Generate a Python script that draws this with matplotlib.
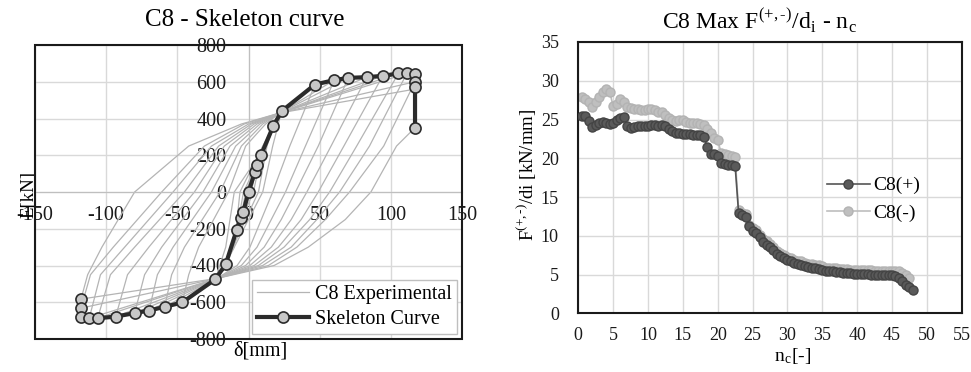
import numpy as np
import matplotlib
matplotlib.use("Agg")
import matplotlib.pyplot as plt
from matplotlib.patches import Rectangle

plt.rcParams["font.family"] = ["Liberation Serif", "DejaVu Serif"]
plt.rcParams["mathtext.fontset"] = "stix"
plt.rcParams["axes.unicode_minus"] = False

# ---- left chart: skeleton curve ----
skel_x = [-117.7, -117.7, -117.7, -111.9, -106.0, -93.3, -80.0, -69.9, -58.9, -46.5, -23.3, -16.0,
          -8.3, -5.5, -3.6, 0.0, 4.6, 5.7, 8.8, 17.4, 23.3, 46.7, 60.3, 70.1, 83.0, 94.3, 105.3,
          111.2, 117.0, 117.0, 117.0, 117.0]
skel_y = [-583, -632, -678, -687, -687, -678, -659, -645, -625, -601, -475, -393,
          -206, -143, -107, 0, 110, 147, 201, 359, 440, 585, 609, 621, 625, 632, 645,
          645, 640, 600, 569, 350]

# experimental loops: peaks and the x where each branch crosses a given force level
loop_xp = [4.6, 5.7, 8.8, 17.4, 23.3, 46.7, 60.3, 70.1, 83.0, 94.3, 105.3, 111.2, 117.0, 117.0]
loop_yp_top = [110, 147, 201, 359, 440, 585, 609, 621, 625, 632, 645, 645, 600, 560]
loop_yp = [110, 147, 201, 359, 440, 585, 609, 621, 625, 632, 645, 645, 600, 350]
loop_xn = [-3.6, -5.5, -8.3, -16.0, -23.3, -46.5, -58.9, -69.9, -80.0, -93.3, -106.0, -111.9, -117.7, -117.7]
loop_yn = [-107, -143, -206, -393, -475, -601, -625, -645, -659, -678, -687, -687, -632, -583]
# unloading branch (positive peak -> negative peak), x at F = 250, 0, -300
unl_x250 = [np.nan, np.nan, np.nan, 13, 17, 29, 40, 49, 58, 67, 76, 85, 95, 104]
unl_x0 = [1.5, 2.0, 3.5, 7, 10, 17, 26, 33, 41, 49, 57, 64, 71, 86]
unl_xm150 = [np.nan, np.nan, np.nan, np.nan, np.nan, 9, 16, 23, 30, 37, 43, 48, 54, 68]
unl_xm300 = [np.nan, np.nan, np.nan, -11, -10, 1, 6, 11, 16, 21, 25, 30, 34, 42]
unl_xm400 = [np.nan, np.nan, np.nan, np.nan, np.nan, -8, -5, -2, 1, 4, 7, 10, 14, 18]
# reloading branch (negative peak -> positive peak), x at F = -300, 0, 250
rel_xm450 = [np.nan, np.nan, np.nan, np.nan, np.nan, -42, -54, -64, -73, -85, -97, -104, -111, -113]
rel_xm300 = [np.nan, np.nan, np.nan, -10, -16, -35, -45, -53, -61, -70, -80, -87, -95, -103]
rel_x0 = [-1.5, -2.0, -3.5, -6, -10, -14, -20, -26, -32, -38, -45, -53, -61, -80]
rel_x250 = [np.nan, np.nan, np.nan, 10, 12, -2, -5, -9, -13, -17, -21, -26, -31, -42]
rel_x370 = [np.nan, np.nan, np.nan, np.nan, np.nan, 12, 10, 8, 6, 4, 2, 0, -3, -5]
pinch_pos = (22, 430)
pinch_neg = (-22, -470)

# ---- right chart: stiffness degradation ----
c8_pos = [25.4, 25.5, 24.8, 24.0, 24.3, 24.6, 24.7, 24.5, 24.4, 24.6, 24.9, 25.2, 25.3, 24.1, 23.9,
          24.0, 24.1, 24.1, 24.2, 24.2, 24.3, 24.3, 24.2, 24.3, 24.1, 23.8, 23.5, 23.3, 23.2, 23.1,
          23.1, 23.1, 23.0, 23.0, 23.0, 22.8, 21.5, 20.6, 20.5, 20.3, 19.4, 19.2, 19.1, 19.1, 19.0,
          12.9, 12.7, 12.4, 11.2, 10.6, 10.4, 9.8, 9.2, 8.8, 8.5, 8.2, 7.6, 7.4, 7.1, 6.9,
          6.7, 6.5, 6.3, 6.2, 6.1, 6.0, 5.9, 5.8, 5.7, 5.6, 5.5, 5.5, 5.4, 5.3, 5.3,
          5.2, 5.2, 5.2, 5.1, 5.1, 5.1, 5.1, 5.1, 5.0, 5.0, 5.0, 5.0, 5.0, 4.9, 4.9,
          4.8, 4.6, 4.2, 3.6, 3.4, 3.0]
c8_neg = [27.9, 27.6, 27.3, 26.6, 27.2, 27.9, 28.5, 28.9, 28.6, 26.7, 27.0, 27.6, 27.2, 26.6, 26.5,
          26.4, 26.3, 26.2, 26.2, 26.3, 26.4, 26.2, 26.0, 26.0, 25.6, 25.2, 24.9, 24.8, 24.9, 24.9,
          24.7, 24.6, 24.5, 24.6, 24.4, 24.3, 23.8, 23.2, 22.6, 22.3, 20.7, 20.5, 20.4, 20.3, 20.1,
          13.3, 13.0, 12.8, 11.4, 11.0, 10.7, 10.1, 9.6, 9.3, 8.9, 8.6, 8.1, 7.8, 7.5, 7.2,
          7.1, 6.9, 6.8, 6.7, 6.5, 6.4, 6.3, 6.2, 6.2, 6.1, 5.9, 5.9, 5.8, 5.8, 5.7,
          5.7, 5.7, 5.6, 5.6, 5.6, 5.6, 5.6, 5.6, 5.6, 5.5, 5.5, 5.5, 5.5, 5.5, 5.5,
          5.5, 5.4, 5.2, 5.0, 4.6]
nc_step = 0.5

fig = plt.figure(figsize=(9.71, 3.72), dpi=100)

# ================= left =================
ax = fig.add_axes([35 / 971, 33 / 372, 427 / 971, 294 / 372])
exp_label = "C8 Experimental"
for i in range(len(loop_xp)):
    xs = [loop_xp[i], loop_xp[i], unl_x250[i], unl_x0[i], unl_xm150[i], unl_xm300[i], unl_xm400[i]]
    ys = [loop_yp_top[i], loop_yp[i], 250, 0, -150, -300, -400]
    if i >= 5:
        xs.append(pinch_neg[0]); ys.append(pinch_neg[1])
    xs += [loop_xn[i], rel_xm450[i], rel_xm300[i], rel_x0[i], rel_x250[i], rel_x370[i]]
    ys += [loop_yn[i], -450, -300, 0, 250, 370]
    if i >= 5:
        xs.append(pinch_pos[0]); ys.append(pinch_pos[1])
    xs.append(loop_xp[i]); ys.append(loop_yp_top[i])
    xs = np.array(xs, dtype=float)
    ys = np.array(ys, dtype=float)
    ok = ~np.isnan(xs)
    ax.plot(xs[ok], ys[ok], color="#b4b4b4", lw=0.9, label=exp_label, zorder=2)
    exp_label = None

ax.plot(skel_x, skel_y, color="#2b2b2b", lw=3, marker="o", markersize=8,
        markerfacecolor="#c8c8c8", markeredgecolor="#2b2b2b", markeredgewidth=1.2,
        label="Skeleton Curve", zorder=4)

ax.set_xlim(-150, 150)
ax.set_ylim(-800, 800)
ax.set_xticks(np.arange(-150, 151, 50))
ax.set_yticks(np.arange(-800, 801, 200))
ax.grid(True, color="#d9d9d9", lw=1)
ax.set_axisbelow(True)
ax.spines["left"].set_position(("data", 0))
ax.spines["bottom"].set_position(("data", 0))
ax.spines["left"].set_color("#bfbfbf")
ax.spines["bottom"].set_color("#bfbfbf")
ax.spines["top"].set_visible(False)
ax.spines["right"].set_visible(False)
ax.tick_params(length=0, labelsize=14.5, colors="#1a1a1a")
ax.tick_params(axis="y", pad=16)
ax.tick_params(axis="x", pad=10)
ax.add_patch(Rectangle((0, 0), 1, 1, transform=ax.transAxes, fill=False,
                       edgecolor="#1a1a1a", lw=1.5, clip_on=False, zorder=5))
ax.set_xlabel("δ[mm]", fontsize=14.5)
ax.xaxis.set_label_coords(0.527, -0.01)
ax.set_ylabel("E[kN]", fontsize=13.5)
ax.yaxis.set_label_coords(0.005, 0.49)
leg = ax.legend(loc="lower right", bbox_to_anchor=(1, 0), borderaxespad=0.25, fontsize=14.5,
                frameon=True, fancybox=False, edgecolor="#bfbfbf", framealpha=1,
                handlelength=2.6, handletextpad=0.3, borderpad=0.25, labelspacing=0.3)
fig.text(245 / 971, 1 - 20 / 372, "C8 - Skeleton curve", fontsize=18, ha="center", va="center")

# ================= right =================
ax2 = fig.add_axes([578.3 / 971, 58.7 / 372, 383.4 / 971, 271.3 / 372])
n_pos = nc_step * (np.arange(len(c8_pos)) + 1)
n_neg = nc_step * (np.arange(len(c8_neg)) + 1)
ax2.plot(n_pos, c8_pos, color="#555555", lw=1.2, marker="o", markersize=6.5,
         markerfacecolor="#5a5a5a", markeredgecolor="#444444", label="C8(+)", zorder=3)
ax2.plot(n_neg, c8_neg, color="#bdbdbd", lw=1.2, marker="o", markersize=6.5,
         markerfacecolor="#bfbfbf", markeredgecolor="#b3b3b3", label="C8(-)", zorder=2)
ax2.set_xlim(0, 55)
ax2.set_ylim(0, 35)
ax2.set_xticks(np.arange(0, 56, 5))
ax2.set_yticks(np.arange(0, 36, 5))
ax2.grid(True, color="#d9d9d9", lw=1)
ax2.set_axisbelow(True)
for s in ax2.spines.values():
    s.set_color("#1a1a1a")
    s.set_linewidth(1.5)
ax2.tick_params(length=0, labelsize=13, colors="#1a1a1a")
ax2.tick_params(axis="y", pad=14)
ax2.tick_params(axis="x", pad=10)
ax2.set_xlabel("n$_{\\mathregular{c}}$[-]", fontsize=14)
ax2.xaxis.set_label_coords(0.56, -0.12)
ax2.set_ylabel("F$^{\\mathregular{(+,\u2010)}}$/di [kN/mm]", fontsize=13.5)
ax2.yaxis.set_label_coords(-0.105, 0.51)
ax2.legend(loc="center", bbox_to_anchor=(0.77, 0.42), frameon=False, fontsize=14,
           handlelength=2.2, handletextpad=0.2, labelspacing=0.5)
fig.text(759 / 971, 1 - 20 / 372,
         "C8 Max F$^{\\mathregular{(+,\u2010)}}$/d$_{\\mathregular{i}}$ - n$_{\\mathregular{c}}$",
         fontsize=17, ha="center", va="center")

fig.savefig("out.png", dpi=100)
